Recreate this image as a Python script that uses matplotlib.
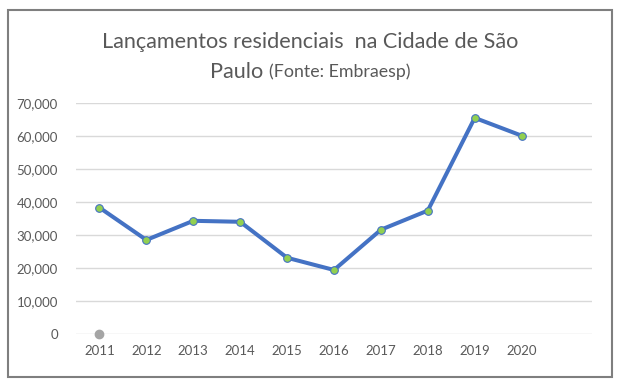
import matplotlib

matplotlib.use("Agg")
import matplotlib.pyplot as plt
from matplotlib import ticker
from matplotlib.patches import Rectangle

# Data
YEARS = ["2011", "2012", "2013", "2014", "2015", "2016", "2017", "2018", "2019", "2020"]
LANCAMENTOS = [38300, 28500, 34300, 34000, 23100, 19400, 31600, 37400, 65500, 60100]
SECOND_SERIES = [0]  # lone gray point at 2011

BLUE = "#4472C4"
GREEN = "#92D050"
GRAY = "#A5A5A5"
TEXT = "#595959"
GRID = "#D9D9D9"
FONT = ["Lato", "DejaVu Sans"]

plt.rcParams["font.family"] = FONT

W, H = 620, 388
fig = plt.figure(figsize=(W / 100, H / 100), dpi=100)
fig.patch.set_facecolor("white")

# outer chart border
fig.patches.append(
    Rectangle((8 / W, 1 - 377 / H), 604 / W, 367 / H, transform=fig.transFigure,
              fill=False, edgecolor="#7F7F7F", linewidth=1.5)
)

ax = fig.add_axes([76 / W, 1 - 334 / H, 516 / W, 231 / H])
x = list(range(len(YEARS)))
ax.plot(x, LANCAMENTOS, color=BLUE, linewidth=2.9, marker="o", markersize=5.5,
        markerfacecolor=GREEN, markeredgecolor=BLUE, markeredgewidth=0.8,
        solid_joinstyle="round", zorder=3)
ax.plot(x[:len(SECOND_SERIES)], SECOND_SERIES, linestyle="none", marker="o",
        markersize=6, color=GRAY, zorder=3, clip_on=False)

ax.set_xlim(-0.5, len(YEARS) + 0.5)
ax.set_ylim(0, 70000)
ax.set_xticks(x)
ax.set_xticklabels(YEARS)
ax.yaxis.set_major_locator(ticker.MultipleLocator(10000))
ax.yaxis.set_major_formatter(ticker.FuncFormatter(lambda v, p: f"{int(v):,}"))
ax.grid(axis="y", color=GRID, linewidth=1)
ax.set_axisbelow(True)
for s in ax.spines.values():
    s.set_visible(False)
ax.tick_params(length=0, colors=TEXT, labelsize=9.5)
ax.tick_params(axis="y", pad=13)
ax.tick_params(axis="x", pad=8)

# title: two lines, the source in a smaller size
fig.text(0.5, 1 - 42 / H, "Lançamentos residenciais  na Cidade de São",
         ha="center", va="center", fontsize=15.6, color=TEXT)
renderer = fig.canvas.get_renderer()
t1 = fig.text(0, 1 - 72 / H, "Paulo ", ha="left", va="center",
              fontsize=15.6, color=TEXT)
t2 = fig.text(0, 1 - 72 / H, "(Fonte: Embraesp)", ha="left", va="center",
              fontsize=12.8, color=TEXT)
w1 = t1.get_window_extent(renderer).width
w2 = t2.get_window_extent(renderer).width
start = (W - (w1 + w2)) / 2
t1.set_x(start / W)
t2.set_x((start + w1) / W)

fig.savefig("out.png", dpi=100, facecolor="white")
